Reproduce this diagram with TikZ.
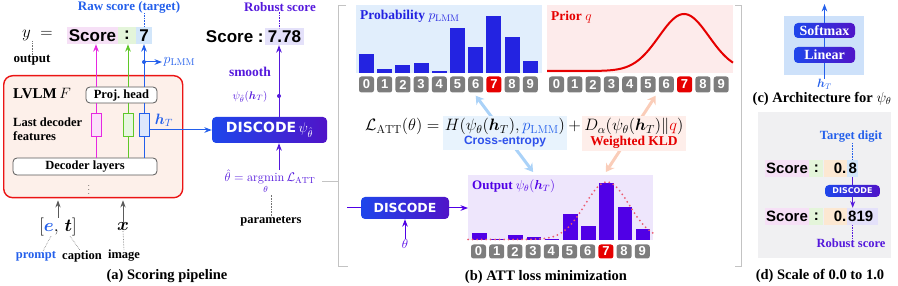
\documentclass[tikz,border=0pt]{standalone}
\usepackage{fix-cm}
\usepackage{amsmath,amssymb}
\usepackage{fontspec}
\newfontfamily\scorefont{Liberation Sans}
\newfontfamily\discfont{DejaVu Sans}
\newfontfamily\lblfont{Liberation Serif}
\usetikzlibrary{arrows.meta,positioning,fit,backgrounds}

\definecolor{rawblue}{RGB}{35,95,235}
\definecolor{robpurple}{RGB}{85,25,220}
\definecolor{lvlmred}{RGB}{235,20,20}
\definecolor{lvlmfill}{RGB}{253,240,234}
\definecolor{magline}{RGB}{230,40,225}
\definecolor{grnline}{RGB}{95,200,40}
\definecolor{pinkhl}{RGB}{246,224,246}
\definecolor{greenhl}{RGB}{228,245,218}
\definecolor{bluehl}{RGB}{210,230,250}
\definecolor{lavhl}{RGB}{228,225,250}
\definecolor{orangehl}{RGB}{252,232,210}
\definecolor{discleft}{RGB}{30,70,235}
\definecolor{discright}{RGB}{80,20,200}
\definecolor{probbar}{RGB}{35,35,225}
\definecolor{probbg}{RGB}{225,238,252}
\definecolor{priorbg}{RGB}{253,235,235}
\definecolor{priorred}{RGB}{230,0,0}
\definecolor{outbar}{RGB}{80,0,230}
\definecolor{outbg}{RGB}{238,230,252}
\definecolor{digitgray}{RGB}{125,125,125}
\definecolor{framegray}{RGB}{195,195,195}
\definecolor{cearrow}{RGB}{170,210,248}
\definecolor{kldarrow}{RGB}{250,205,185}
\definecolor{cebg}{RGB}{232,243,253}
\definecolor{kldbg}{RGB}{254,238,234}
\definecolor{ceblue}{RGB}{45,80,235}
\definecolor{kldred}{RGB}{235,90,110}
\definecolor{archbg}{RGB}{205,225,250}
\definecolor{scalebg}{RGB}{240,240,242}
\definecolor{inarrow}{RGB}{90,90,90}

\newcommand{\lmm}{\mathrm{LMM}}
\newcommand{\att}{\mathrm{ATT}}
\newcommand{\fsz}[1]{\fontsize{#1}{#1}\selectfont}

\begin{document}
\begin{tikzpicture}[x=1pt, y=-1pt, >=Stealth,
  lbl/.style={font=\lblfont\bfseries\fsz{12.5}, inner sep=0pt},
  subcap/.style={font=\lblfont\bfseries\fsz{14.5}, inner sep=0pt},
  hl/.style={inner sep=0pt, minimum height=17pt, font=\scorefont\bfseries\fsz{17}},
  hlsmall/.style={inner sep=0pt, minimum height=17pt, font=\scorefont\bfseries\fsz{15}},
  feat/.style={draw=#1, fill=#1!15, line width=1pt, minimum width=10pt, minimum height=23pt, inner sep=0pt},
  roundbox/.style={draw=black!65, fill=white, rounded corners=4pt, line width=0.8pt, font=\lblfont\bfseries\fsz{12.5}, inner sep=0pt},
  disc/.style={rounded corners=4pt, left color=discleft, right color=discright, text=white, inner sep=0pt},
  digit/.style={rounded corners=2.5pt, text=white, minimum width=15pt, minimum height=16pt, inner sep=0pt, font=\scorefont\bfseries\fsz{13}},
  tag/.style={densely dotted, black!55, line width=0.6pt},
  chartbg/.style={inner sep=0pt, anchor=north west},
  eq/.style={anchor=base west, inner sep=0pt, font=\fsz{16.5}},
  bigarrow/.style={line width=3pt, {Stealth[length=8pt,width=10pt]}-{Stealth[length=8pt,width=10pt]}},
]
\useasboundingbox (0,0) rectangle (898,286);

% (a) scoring pipeline
\node[draw=lvlmred, fill=lvlmfill, rounded corners=9pt, line width=1.4pt,
      minimum width=179pt, minimum height=122pt, anchor=north west] (lvlm) at (3,75) {};
\node[anchor=west, font=\lblfont\bfseries\fsz{15}, inner sep=0pt] (lvlmname) at (13,93) {LVLM\,$F$};
\node[anchor=north west, align=left, font=\lblfont\bfseries\fsz{12.5}, inner sep=0pt] (lastfeat) at (13,118) {Last decoder\\[1pt]features};
\node[roundbox, minimum width=71pt, minimum height=16pt] (proj) at (121.5,95) {Proj.\ head};
\node[roundbox, minimum width=144pt, minimum height=17pt] (declayers) at (85,166.5) {Decoder layers};
\node[inner sep=0pt, font=\fsz{9}] (vdots) at (89,187) {$\vdots$};
\node[feat=magline] (fmag) at (96,125.5) {};
\node[feat=grnline] (fgrn) at (128,125.5) {};
\node[feat=rawblue] (fblu) at (144,125.5) {};
\node[inner sep=0pt, text=rawblue, font=\fsz{15}] (hTa) at (164,120) {$\boldsymbol{h}_T$};

\node[anchor=west, inner sep=0pt, font=\fsz{17}] (yeq) at (22,35) {$y\;=$};
\node[hl, fill=pinkhl, minimum width=51pt] (sc) at (92.5,35.5) {Score};
\node[hl, fill=greenhl, minimum width=18pt] (col) at (127,35.5) {:};
\node[hl, fill=bluehl, minimum width=16pt] (seven) at (144,35.5) {7};
\node[lbl, text=rawblue, font=\lblfont\bfseries\fsz{13}] (raw) at (129,7) {Raw score (target)};
\draw[tag, rawblue] (raw.south -| seven) -- (seven.north);
\node[lbl, font=\lblfont\bfseries\fsz{13}] (outlbl) at (32,60) {output};
\draw[tag] (outlbl.north) -- (outlbl.north |- yeq.south);

\draw[magline, line width=1pt] (declayers.north -| fmag) -- (fmag.south) (fmag.north) -- (proj.south -| fmag);
\draw[magline, line width=1pt, ->] (proj.north -| fmag) -- (sc.south -| fmag);
\draw[grnline, line width=1pt] (declayers.north -| fgrn) -- (fgrn.south) (fgrn.north) -- (proj.south -| fgrn);
\draw[grnline, line width=1pt, ->] (proj.north -| fgrn) -- (col.south -| fgrn);
\draw[rawblue, line width=1pt] (declayers.north -| fblu) -- (fblu.south) (fblu.north) -- (proj.south -| fblu);
\draw[rawblue, line width=1pt, ->] (proj.north -| fblu) -- (seven.south);

\coordinate (split) at (144,62);
\node[anchor=west, inner sep=1.5pt, text=rawblue, font=\fsz{14}] (plmm) at (162,62) {$p_{\lmm}$};
\fill[rawblue] (split) circle (2pt);
\draw[rawblue, line width=1pt, ->] (split) -- (plmm.west);

\node[inner sep=0pt, font=\fsz{18}] (et) at (58,227) {$[\textcolor{rawblue}{\boldsymbol{e}},\,\boldsymbol{t}]$};
\node[inner sep=0pt, font=\fsz{18}] (ximg) at (123,227) {$\boldsymbol{x}$};
\draw[inarrow, line width=0.9pt, ->, shorten >=2pt] (et.north) -- (et.north |- lvlm.south);
\draw[inarrow, line width=0.9pt, ->, shorten >=2pt] (ximg.north) -- (ximg.north |- lvlm.south);
\node[lbl, text=rawblue] (prompt) at (36,256) {prompt};
\node[lbl] (caption) at (82,256) {caption};
\node[lbl] (image) at (124,256) {image};
\draw[tag] ([xshift=-7pt]et.south) -- ([xshift=7pt]prompt.north);
\draw[tag] ([xshift=12pt]et.south) -- ([xshift=-2pt]caption.north);
\draw[tag] (ximg.south) -- (image.north);
\node[subcap] (capa) at (167,276) {(a) Scoring pipeline};

\node[disc, minimum width=115pt, minimum height=26pt, font=\discfont\bfseries\fsz{14}] (discA) at (269.5,130) {DISCODE\,$\psi_{\hat\theta}$};
\draw[rawblue, line width=1pt, ->] (fblu.east |- discA) -- (discA.west);

\node[hl, fill=lavhl, minimum width=39pt] (rob) at (284.5,36.5) {7.78};
\node[hl, anchor=east, inner sep=1pt] (robsc) at (rob.west) {Score :};
\node[lbl, text=robpurple, font=\lblfont\bfseries\fsz{13}] (roblbl) at (280,7) {Robust score};
\coordinate (smx) at (279,96);
\draw[tag, robpurple] (roblbl.south -| smx) -- (rob.north -| smx);
\draw[robpurple, line width=1pt, ->] (discA.north -| smx) -- (rob.south -| smx);
\fill[robpurple] (smx) circle (2pt);
\node[lbl, text=robpurple, font=\lblfont\bfseries\fsz{13.5}] (smooth) at (250,72) {smooth};
\node[inner sep=0pt, text=robpurple, font=\fsz{11}] (psilbl) at (250,97) {$\psi_{\hat\theta}(\boldsymbol{h}_T)$};
\node[inner sep=0pt, text=robpurple, font=\fsz{12.5}, anchor=base] (thetahat) at (270,182) {$\hat\theta = \operatorname*{argmin}\limits_{\theta}\mathcal{L}_{\att}$};
\draw[robpurple, line width=1pt, ->] (thetahat.north -| smx) -- (discA.south -| smx);
\node[lbl] (params) at (271,221) {parameters};
\draw[tag] (params.north) -- (params.north |- thetahat.south);

% (b) ATT loss minimization
\draw[framegray, line width=0.8pt] (346,5) -- (338,5) -- (338,266) -- (348,266);
\draw[framegray, line width=0.8pt] (322,181) -- (338,181);
\draw[framegray, line width=0.8pt] (735,5) -- (741,5) -- (741,266) -- (735,266);

\node[chartbg, fill=probbg, minimum width=186pt, minimum height=68pt] (probbox) at (356,5) {};
\foreach \h [count=\i from 0] in {54,69,65,63,71,28,47,16,37,61}
  \fill[probbar] (359+18.2*\i,73) rectangle ++(15,\h-73);
\node[anchor=west, inner sep=0pt, text=probbar, font=\lblfont\bfseries\fsz{13.5}] (probtitle) at (360,16) {Probability $p_{\lmm}$};

\node[chartbg, fill=priorbg, minimum width=186pt, minimum height=68pt] (priorbox) at (547,5) {};
\draw[priorred, line width=2pt, domain=547:733, samples=100, smooth] plot (\x,{71-57*exp(-0.5*((\x-684)/25)^2)});
\node[anchor=west, inner sep=0pt, text=priorred, font=\lblfont\bfseries\fsz{13.5}] (priortitle) at (551,17) {Prior $q$};

\node[chartbg, fill=outbg, minimum width=185pt, minimum height=65pt] (outbox) at (468,175) {};
\foreach \h [count=\i from 0] in {233,239,235,237,239,214,226,183,207,229}
  \fill[outbar] (472+18.2*\i,240) rectangle ++(14.5,\h-240);
\draw[kldred, line width=2pt, line cap=round, dash pattern=on 0pt off 4.5pt, domain=468:653, samples=80, smooth] plot (\x,{239.5-57.5*exp(-0.5*((\x-607)/22)^2)});
\node[anchor=west, inner sep=0pt, text=outbar, font=\lblfont\bfseries\fsz{13}] (outtitle) at (472,186) {Output $\psi_\theta(\boldsymbol{h}_T)$};

\foreach \d in {0,...,9}{
  \ifnum\d=7 \colorlet{dfill}{priorred}\else\colorlet{dfill}{digitgray}\fi
  \node[digit, fill=dfill] (pd\d) at (366.5+18.2*\d,84.5) {\d};
  \node[digit, fill=dfill] (qd\d) at (556.5+18.3*\d,84.5) {\d};
  \node[digit, fill=dfill, minimum height=14pt] (od\d) at (478.5+18.2*\d,251.5) {\d};
}

\node[disc, minimum width=88pt, minimum height=22pt, font=\discfont\bfseries\fsz{12.5}] (discB) at (405,208) {DISCODE};
\coordinate (inB) at (347,208);
\draw[outbar, line width=1pt] (inB) -- (discB.west);
\draw[outbar, line width=1pt, ->] (discB.east) -- (outbox.west |- discB);
\node[inner sep=0pt, text=outbar, font=\fsz{13}] (thetaB) at (405,244) {$\theta$};
\draw[outbar, line width=1pt, ->] (thetaB.north) -- (discB.south);

\node[eq] (lhs) at (365,131) {$\mathcal{L}_{\att}(\theta) =$};
\node[eq] (ceM) at ([xshift=5pt]lhs.base east) {$H(\psi_\theta(\boldsymbol{h}_T), \textcolor{rawblue}{p_{\lmm}})$};
\node[eq] (plus) at ([xshift=3pt]ceM.base east) {$+$};
\node[eq] (kldM) at ([xshift=3pt]plus.base east) {$D_\alpha(\psi_\theta(\boldsymbol{h}_T)\|\textcolor{priorred}{q})$};
\node[below=1pt of ceM, inner sep=0pt, text=ceblue, font=\scorefont\bfseries\fsz{12}] (ceL) {Cross-entropy};
\node[below=1pt of kldM, inner sep=0pt, text=priorred, font=\lblfont\bfseries\fsz{13.5}] (kldL) {Weighted KLD};
\coordinate (ceEnd) at (outbox.north -| od3);
\coordinate (kldEnd) at (outbox.north -| od7);
\begin{scope}[on background layer]
  \draw[cearrow, bigarrow] ([yshift=-3pt]pd6.south) -- ([yshift=3pt]ceEnd);
  \draw[kldarrow, bigarrow] ([yshift=-3pt]qd5.south east) -- ([yshift=3pt]kldEnd);
  \node[fit=(ceM)(ceL), fill=cebg, inner sep=2pt] (cebox) {};
  \node[fit=(kldM)(kldL), fill=kldbg, inner sep=2pt] (kldbox) {};
\end{scope}
\node[subcap] (capb) at (546,277) {(b) ATT loss minimization};

% (c) architecture
\node[chartbg, fill=archbg, minimum width=80pt, minimum height=59pt] (archbox) at (784,16) {};
\node[disc, minimum width=61pt, minimum height=15pt, font=\lblfont\bfseries\fsz{14}] (softmax) at (824.5,30.5) {Softmax};
\node[disc, minimum width=61pt, minimum height=16pt, font=\lblfont\bfseries\fsz{14}] (linear) at (824.5,55) {Linear};
\node[inner sep=0pt, text=rawblue, font=\fsz{12}] (hTc) at (824.5,84) {$\boldsymbol{h}_T$};
\coordinate (topc) at (824.5,4);
\draw[rawblue, line width=1pt] (hTc.north) -- (linear.south) (linear.north) -- (softmax.south);
\draw[rawblue, line width=1pt, ->] (softmax.north) -- (topc);
\node[subcap] (capc) at (822,99) {(c) Architecture for $\psi_\theta$};

% (d) scale of 0.0 to 1.0
\node[chartbg, fill=scalebg, minimum width=133pt, minimum height=146pt] (scalebox) at (758,112) {};
\node[lbl, text=rawblue] (tgt) at (851,137) {Target digit};
\node[hlsmall, fill=pinkhl, minimum width=44pt] (dsc1) at (787,168.5) {Score};
\node[hlsmall, fill=greenhl, minimum width=14pt, right=0pt of dsc1] (dcol1) {:};
\node[hlsmall, fill=orangehl, text width=22pt, align=right, inner xsep=0.5pt, right=0pt of dcol1] (dzero1) {0.};
\node[hlsmall, fill=bluehl, minimum width=11pt, right=0pt of dzero1] (eight) {8};
\node[hlsmall, fill=pinkhl, minimum width=44pt] (dsc2) at (787,216.5) {Score};
\node[hlsmall, fill=greenhl, minimum width=14pt, right=0pt of dsc2] (dcol2) {:};
\node[hlsmall, fill=orangehl, text width=22pt, align=right, inner xsep=0.5pt, right=0pt of dcol2] (dzero2) {0.};
\node[hlsmall, fill=lavhl, text width=29pt, align=left, inner xsep=1pt, right=0pt of dzero2] (n819) {819};
\draw[tag, rawblue] (tgt.south -| eight) -- (eight.north);
\draw[robpurple, line width=0.8pt, ->] (eight.south) -- (eight.south |- n819.north);
\node[disc, minimum width=55pt, minimum height=12pt, font=\discfont\bfseries\fsz{8}] (discD) at (852.5,191) {DISCODE};
\node[lbl, text=robpurple] (robD) at (851,243) {Robust score};
\draw[tag, robpurple] (n819.south -| eight) -- (robD.north -| eight);
\node[subcap] (capd) at (820,276) {(d) Scale of 0.0 to 1.0};
\end{tikzpicture}
\end{document}
